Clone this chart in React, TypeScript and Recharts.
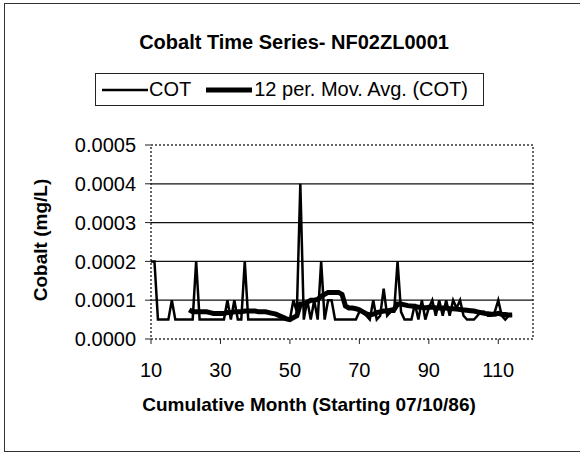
import React from 'react';
import { LineChart, Line, XAxis, YAxis, ReferenceLine, ReferenceArea } from 'recharts';

const FONT = '"Liberation Sans", Arial, Helvetica, sans-serif';

// cumulative month of the first COT sample, one sample per month after that
const startMonth = 10;

// COT readings (mg/L), months 10 .. 114
const cotValues = [
  0.0002, 0.0002, 0.00005, 0.00005, 0.00005, 0.00005, 0.0001, 0.00005, 0.00005, 0.00005, // 10-19
  0.00005, 0.00005, 0.00005, 0.0002, 0.00005, 0.00005, 0.00005, 0.00005, 0.00005, 0.00005, // 20-29
  0.00005, 0.00005, 0.0001, 0.00005, 0.0001, 0.00005, 0.00005, 0.0002, 0.00005, 0.00005, // 30-39
  0.00005, 0.00005, 0.00005, 0.00005, 0.00005, 0.00005, 0.00005, 0.00005, 0.00005, 0.00005, // 40-49
  0.00005, 0.0001, 0.00007, 0.0004, 0.00005, 0.0001, 0.00005, 0.0001, 0.00005, 0.0002, // 50-59
  0.00005, 0.0001, 0.0001, 0.00005, 0.00005, 0.00005, 0.00005, 0.00005, 0.00005, 0.00005, // 60-69
  0.00007, 0.00007, 0.00006, 0.00005, 0.0001, 0.00005, 0.00006, 0.00013, 0.00006, 0.00007, // 70-79
  0.00007, 0.0002, 0.00007, 0.00005, 0.00005, 0.00005, 0.00009, 0.00005, 0.0001, 0.00005, // 80-89
  0.00008, 0.0001, 0.00006, 0.0001, 0.00006, 0.0001, 0.00006, 0.0001, 0.00008, 0.0001, // 90-99
  0.00006, 0.00005, 0.00005, 0.00005, 0.00006, 0.00007, 0.00007, 0.00006, 0.00006, 0.00007, // 100-109
  0.0001, 0.00006, 0.00005, 0.00006, 0.00006, // 110-114
];

// 12 per. moving average as drawn, months 21 .. 114
const maStartMonth = 21;
const maValues = [
  0.000075, 0.00007, 0.00007, 0.00007, 0.00007, 0.00007, 0.000068, 0.000066, 0.000066, // 21-29
  0.000066, 0.000066, 0.000068, 0.000068, 0.00007, 0.00007, 0.00007, 0.000072, 0.000072, 0.000072, // 30-39
  0.000072, 0.00007, 0.00007, 0.00007, 0.000068, 0.000066, 0.000064, 0.00006, 0.000056, 0.000052, // 40-49
  0.00005, 0.000055, 0.00006, 0.00009, 0.00009, 0.000095, 0.0001, 0.0001, 0.000102, 0.00011, // 50-59
  0.000115, 0.00012, 0.00012, 0.00012, 0.00012, 0.000115, 0.000085, 0.00008, 0.00008, 0.000078, // 60-69
  0.000075, 0.00007, 0.000065, 0.000062, 0.000064, 0.000068, 0.00007, 0.000072, 0.000072, 0.000074, // 70-79
  0.000076, 0.00009, 0.00009, 0.000088, 0.000086, 0.000085, 0.000084, 0.000082, 0.000082, 0.00008, // 80-89
  0.000082, 0.000082, 0.00008, 0.00008, 0.00008, 0.00008, 0.000078, 0.000078, 0.000077, 0.000076, // 90-99
  0.000075, 0.000074, 0.000073, 0.000072, 0.00007, 0.000068, 0.000066, 0.000065, 0.000064, 0.000064, // 100-109
  0.000066, 0.000064, 0.000063, 0.000062, 0.000062, // 110-114
];

const xTicks = [10, 30, 50, 70, 90, 110];
const xDomain = [10, 120];
const yTicks = [0, 0.0001, 0.0002, 0.0003, 0.0004, 0.0005];
const gridValues = [0.0001, 0.0002, 0.0003, 0.0004];

const rows = cotValues.map((v, i) => {
  const month = startMonth + i;
  const k = month - maStartMonth;
  return { month, cot: v, ma: k >= 0 ? maValues[k] : null };
});

function LegendBox() {
  return (
    <div
      style={{
        position: 'absolute',
        left: 95,
        top: 73,
        width: 389,
        height: 33,
        border: '1px solid #222',
        display: 'flex',
        alignItems: 'center',
        fontFamily: FONT,
        fontSize: 20,
        color: '#000',
        paddingLeft: 6,
        boxSizing: 'border-box',
      }}
    >
      <svg width={46} height={10}>
        <line x1={0} y1={5} x2={46} y2={5} stroke="#000" strokeWidth={2.5} />
      </svg>
      <span style={{ marginLeft: 1 }}>COT</span>
      <svg width={46} height={10} style={{ marginLeft: 15 }}>
        <line x1={0} y1={5} x2={46} y2={5} stroke="#000" strokeWidth={5} />
      </svg>
      <span style={{ marginLeft: 2 }}>12 per. Mov. Avg. (COT)</span>
    </div>
  );
}

export default function App() {
  return (
    <div
      style={{
        position: 'fixed',
        left: 0,
        top: 0,
        width: 580,
        height: 453,
        overflow: 'hidden',
        background: '#fff',
      }}
    >
      <div
        style={{
          position: 'absolute',
          left: 4,
          top: 3,
          width: 600,
          height: 447,
          border: '1.5px solid #333',
        }}
      />
      <div
        style={{
          position: 'absolute',
          left: 294,
          top: 42,
          transform: 'translate(-50%, -50%)',
          whiteSpace: 'nowrap',
          fontFamily: FONT,
          fontWeight: 'bold',
          fontSize: 20,
          lineHeight: 1,
        }}
      >
        Cobalt Time Series- NF02ZL0001
      </div>
      <LegendBox />
      <div style={{ position: 'absolute', left: 0, top: 0 }}>
        <LineChart
          width={580}
          height={453}
          data={rows}
          margin={{ top: 145, right: 47, bottom: 74, left: 51 }}
        >
          <XAxis
            type="number"
            dataKey="month"
            domain={xDomain}
            ticks={xTicks}
            interval={0}
            allowDataOverflow
            height={40}
            axisLine={false}
            tickLine={{ stroke: '#222' }}
            tickSize={5}
            tickMargin={19}
            tick={{ fill: '#000', fontSize: 20, fontFamily: FONT }}
          />
          <YAxis
            type="number"
            domain={[0, 0.0005]}
            ticks={yTicks}
            interval={0}
            width={100}
            axisLine={false}
            tickLine={{ stroke: '#222' }}
            tickSize={6}
            tickMargin={9}
            tickFormatter={(v: number) => v.toFixed(4)}
            tick={{ fill: '#000', fontSize: 20, fontFamily: FONT }}
          />
          {gridValues.map((g) => (
            <ReferenceLine key={g} y={g} stroke="#111" strokeWidth={1.2} />
          ))}
          <ReferenceArea
            x1={xDomain[0]}
            x2={xDomain[1]}
            y1={0}
            y2={0.0005}
            fill="none"
            fillOpacity={0}
            stroke="#333"
            strokeWidth={1.5}
            strokeDasharray="2 2"
          />
          <Line
            type="linear"
            dataKey="cot"
            stroke="#000"
            strokeWidth={2.5}
            dot={false}
            isAnimationActive={false}
          />
          <Line
            type="linear"
            dataKey="ma"
            stroke="#000"
            strokeWidth={5}
            dot={false}
            connectNulls={false}
            isAnimationActive={false}
          />
        </LineChart>
      </div>
      <div
        style={{
          position: 'absolute',
          left: 309,
          top: 404,
          transform: 'translate(-50%, -50%)',
          whiteSpace: 'nowrap',
          fontFamily: FONT,
          fontWeight: 'bold',
          fontSize: 19,
          lineHeight: 1,
        }}
      >
        Cumulative Month (Starting 07/10/86)
      </div>
      <div
        style={{
          position: 'absolute',
          left: 40,
          top: 240,
          transform: 'translate(-50%, -50%) rotate(-90deg)',
          whiteSpace: 'nowrap',
          fontFamily: FONT,
          fontWeight: 'bold',
          fontSize: 19,
          lineHeight: 1,
        }}
      >
        Cobalt (mg/L)
      </div>
    </div>
  );
}
